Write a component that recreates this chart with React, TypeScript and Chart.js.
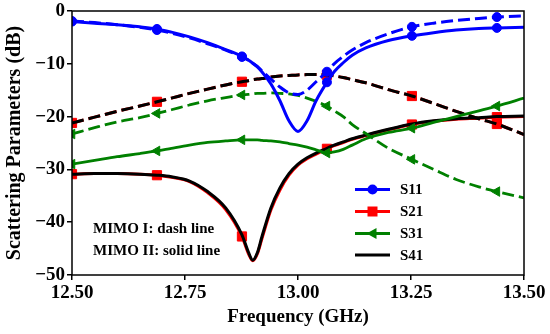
import React, { useEffect, useRef } from 'react';
import { Chart, registerables } from 'chart.js';

Chart.register(...registerables);

// Frequency grid (GHz)
const FREQ = [12.5, 12.55, 12.6, 12.65, 12.688, 12.72, 12.76, 12.8, 12.84, 12.876, 12.89, 12.9, 12.91, 12.92, 12.94, 12.96, 12.98, 13.0, 13.02, 13.04, 13.064, 13.08, 13.1, 13.12, 13.15, 13.2, 13.252, 13.3, 13.35, 13.4, 13.44, 13.5];
const MARKER_FREQS = [12.5, 12.688, 12.876, 13.064, 13.252, 13.44];

// MIMO I (dash line)
const S11_I = [-1.9, -2.2, -2.6, -3.1, -3.6, -4.2, -5.1, -6.2, -7.4, -8.7, -9.3, -9.9, -10.5, -11.3, -12.9, -14.4, -15.5, -15.8, -15.0, -13.4, -11.5, -10.0, -8.6, -7.4, -6.0, -4.3, -3.0, -2.3, -1.8, -1.4, -1.15, -0.9];
const S21_I = [-21.2, -20.1, -19.0, -18.0, -17.2, -16.5, -15.6, -14.8, -14.0, -13.4, -13.2, -13.0, -12.9, -12.8, -12.5, -12.3, -12.2, -12.1, -12.05, -12.05, -12.1, -12.3, -12.6, -13.0, -13.6, -14.9, -16.1, -17.5, -19.0, -20.4, -21.4, -23.4];
const S31_I = [-23.3, -22.1, -21.0, -20.2, -19.4, -18.7, -17.8, -17.0, -16.4, -15.9, -15.8, -15.7, -15.6, -15.6, -15.5, -15.6, -15.7, -16.0, -16.5, -17.1, -18.0, -18.9, -20.0, -21.5, -23.2, -26.0, -28.1, -30.0, -31.9, -33.3, -34.2, -35.4];
const S41_I = [-21.2, -20.1, -19.0, -18.0, -17.2, -16.5, -15.6, -14.8, -14.0, -13.4, -13.2, -13.0, -12.9, -12.8, -12.5, -12.3, -12.2, -12.1, -12.05, -12.05, -12.1, -12.3, -12.6, -13.0, -13.6, -14.9, -16.1, -17.5, -19.0, -20.4, -21.4, -23.4];

// MIMO II (solid line)
const S11_II = [-2.0, -2.3, -2.6, -3.0, -3.4, -4.0, -4.9, -6.0, -7.3, -8.6, -9.3, -9.9, -10.6, -11.5, -13.8, -17.0, -20.8, -22.8, -20.8, -17.0, -13.5, -11.5, -9.8, -8.4, -7.0, -5.6, -4.7, -4.1, -3.6, -3.3, -3.2, -3.1];
const S21_II = [-30.9, -30.8, -30.8, -30.9, -31.1, -31.5, -32.3, -34.4, -37.6, -42.7, -45.9, -47.3, -46.0, -43.2, -37.7, -33.9, -31.1, -29.2, -28.0, -27.1, -26.1, -25.5, -24.9, -24.3, -23.6, -22.5, -21.5, -20.9, -20.5, -20.3, -20.1, -20.0];
const S31_II = [-29.0, -28.3, -27.6, -27.0, -26.5, -26.0, -25.4, -24.9, -24.6, -24.4, -24.4, -24.4, -24.4, -24.5, -24.6, -24.8, -25.1, -25.4, -25.8, -26.3, -26.9, -26.7, -26.2, -25.4, -24.2, -23.0, -22.2, -21.1, -20.0, -18.9, -18.0, -16.5];
const S41_II = [-30.9, -30.8, -30.8, -30.9, -31.1, -31.4, -32.2, -34.2, -37.3, -42.4, -45.6, -47.2, -45.8, -42.8, -37.3, -33.5, -30.8, -29.0, -27.8, -26.9, -26.0, -25.4, -24.8, -24.2, -23.5, -22.4, -21.4, -20.8, -20.4, -20.2, -20.0, -19.9];

const X_TICKS = [12.5, 12.75, 13.0, 13.25, 13.5];
const Y_TICKS = [-50, -40, -30, -20, -10, 0];
const LEGEND_LABELS = ['S11', 'S21', 'S31', 'S41'];
const NOTE_LINES = ['MIMO I: dash line', 'MIMO II: solid line'];
const X_TITLE = 'Frequency (GHz)';
const Y_TITLE = 'Scattering Parameters (dB)';

const FONT = '"Liberation Serif", "Times New Roman", serif';
const BLUE = '#0000ff';
const RED = '#ff0000';
const GREEN = '#008000';
const BLACK = '#000000';

type Style = 'circle' | 'rect' | 'triangle' | false;

function mk(label: string, values: number[], color: string, dashed: boolean, style: Style, radius: number, width: number, order: number) {
  return {
    label,
    data: FREQ.map((f, i) => ({ x: f, y: values[i] })),
    borderColor: color,
    backgroundColor: color,
    borderWidth: width,
    borderDash: dashed ? [12, 5] : [],
    cubicInterpolationMode: 'monotone' as const,
    pointStyle: style || 'circle',
    pointRotation: style === 'triangle' ? -90 : 0,
    pointRadius: FREQ.map((f) => (style && MARKER_FREQS.includes(f) ? radius : 0)),
    pointBorderWidth: 1,
    pointBorderColor: color,
    pointBackgroundColor: color,
    fill: false,
    order,
  };
}

function drawMarker(ctx: CanvasRenderingContext2D, style: Style, x: number, y: number, color: string) {
  ctx.fillStyle = color;
  ctx.beginPath();
  if (style === 'circle') {
    ctx.arc(x, y, 5, 0, Math.PI * 2);
  } else if (style === 'rect') {
    ctx.rect(x - 5, y - 5, 10, 10);
  } else if (style === 'triangle') {
    ctx.moveTo(x - 6, y);
    ctx.lineTo(x + 4, y - 5.5);
    ctx.lineTo(x + 4, y + 5.5);
    ctx.closePath();
  }
  ctx.fill();
}

const overlay = {
  id: 'overlay',
  afterDatasetsDraw(chart: any) {
    const { ctx, chartArea: a } = chart;
    ctx.save();
    // frame
    ctx.strokeStyle = BLACK;
    ctx.lineWidth = 1.5;
    ctx.setLineDash([]);
    ctx.strokeRect(a.left, a.top, a.right - a.left, a.bottom - a.top);

    // legend
    const colors = [BLUE, RED, GREEN, BLACK];
    const styles: Style[] = ['circle', 'rect', 'triangle', false];
    const widths = [3, 3, 2.8, 3];
    const x0 = 355, x1 = 390;
    const rowY = [189.5, 211.5, 233.5, 255];
    ctx.font = `bold 15px ${FONT}`;
    ctx.textBaseline = 'middle';
    ctx.textAlign = 'left';
    LEGEND_LABELS.forEach((lab, i) => {
      const y = rowY[i];
      ctx.strokeStyle = colors[i];
      ctx.lineWidth = widths[i];
      ctx.beginPath();
      ctx.moveTo(x0, y);
      ctx.lineTo(x1, y);
      ctx.stroke();
      if (styles[i]) drawMarker(ctx, styles[i], (x0 + x1) / 2, y, colors[i]);
      ctx.fillStyle = BLACK;
      ctx.fillText(lab, 400, y + 1);
    });

    // note text
    ctx.fillStyle = BLACK;
    ctx.font = `bold 15px ${FONT}`;
    ctx.fillText(NOTE_LINES[0], 93, 229.5);
    ctx.fillText(NOTE_LINES[1], 93, 251);
    ctx.restore();
  },
};

const fmtY = (v: number) => (v < 0 ? '\u2212' + Math.abs(v) : String(v));

export default function App() {
  const ref = useRef<HTMLCanvasElement>(null);
  useEffect(() => {
    if (!ref.current) return;
    const chart = new Chart(ref.current, {
      type: 'line',
      data: {
        datasets: [
          mk('S11 MIMO I', S11_I, BLUE, true, 'circle', 4.5, 3, 1),
          mk('S11 MIMO II', S11_II, BLUE, false, 'circle', 4.5, 3, 1),
          mk('S31 MIMO I', S31_I, GREEN, true, 'triangle', 5.5, 2.8, 2),
          mk('S31 MIMO II', S31_II, GREEN, false, 'triangle', 5.5, 2.8, 2),
          mk('S41 MIMO I', S41_I, BLACK, true, false, 0, 3, 3),
          mk('S41 MIMO II', S41_II, BLACK, false, false, 0, 3, 3),
          mk('S21 MIMO I', S21_I, RED, true, 'rect', 6.5, 3, 4),
          mk('S21 MIMO II', S21_II, RED, false, 'rect', 6.5, 3, 4),
        ] as any,
      },
      options: {
        responsive: false,
        animation: false,
        events: [],
        layout: { padding: { left: 0, right: 26, top: 11, bottom: 0 } },
        plugins: { legend: { display: false }, tooltip: { enabled: false } },
        scales: {
          x: {
            type: 'linear',
            min: 12.5,
            max: 13.5,
            afterBuildTicks: (s: any) => { s.ticks = X_TICKS.map((v) => ({ value: v })); },
            afterFit: (s: any) => { s.height = 59; s.paddingLeft = 0; s.paddingRight = 0; },
            border: { display: false },
            grid: { drawOnChartArea: false, drawTicks: true, tickLength: 5, color: BLACK, lineWidth: 1.5 },
            ticks: {
              color: BLACK,
              padding: 2,
              font: { family: FONT, size: 19, weight: 'bold' },
              maxRotation: 0,
              callback: (v: any) => Number(v).toFixed(2),
            },
            title: {
              display: true,
              text: X_TITLE,
              color: BLACK,
              font: { family: FONT, size: 19, weight: 'bold' },
              padding: { top: 0, bottom: 6 },
            },
          },
          y: {
            type: 'linear',
            min: -50,
            max: 0,
            afterBuildTicks: (s: any) => { s.ticks = Y_TICKS.map((v) => ({ value: v })); },
            afterFit: (s: any) => { s.width = 72; s.paddingTop = 0; s.paddingBottom = 0; },
            border: { display: false },
            grid: { drawOnChartArea: false, drawTicks: true, tickLength: 5, color: BLACK, lineWidth: 1.5 },
            ticks: {
              color: BLACK,
              padding: 2,
              font: { family: FONT, size: 19, weight: 'bold' },
              callback: (v: any) => fmtY(Number(v)),
            },
            title: {
              display: true,
              text: Y_TITLE,
              color: BLACK,
              font: { family: FONT, size: 20, weight: 'bold' },
              padding: { top: 3, bottom: 0 },
            },
          },
        },
      } as any,
      plugins: [overlay],
    });
    return () => chart.destroy();
  }, []);
  return (
    <div style={{ position: 'fixed', left: 0, top: 0, width: 550, height: 334, background: '#fff' }}>
      <canvas ref={ref} width={550} height={334} style={{ width: 550, height: 334, display: 'block' }} />
    </div>
  );
}
